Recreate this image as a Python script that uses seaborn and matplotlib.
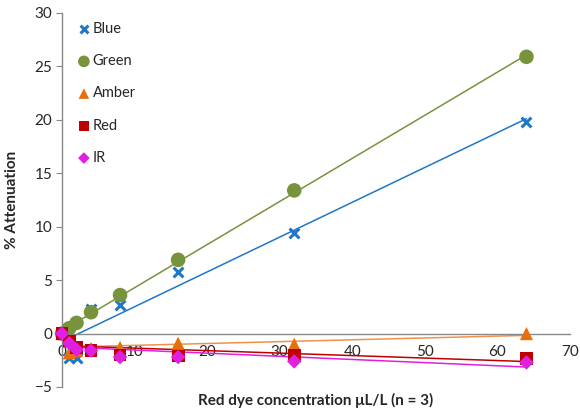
import numpy as np
import pandas as pd
import matplotlib
matplotlib.use("Agg")
import matplotlib.pyplot as plt
import seaborn as sns

sns.set_style("white")
plt.rcParams["font.family"] = ["Lato", "DejaVu Sans"]

conc = [0, 1, 2, 4, 8, 16, 32, 64]
blue = [0.0, -2.3, -2.3, 2.3, 2.7, 5.8, 9.4, 19.8]
green = [0.0, 0.5, 1.0, 2.0, 3.6, 6.9, 13.4, 25.9]
amber = [0.0, -1.8, -1.6, -1.4, -1.3, -0.9, -1.0, 0.0]
red = [0.0, -0.7, -1.3, -1.6, -2.0, -2.1, -2.0, -2.3]
ir = [0.0, -0.9, -1.5, -1.6, -2.2, -2.2, -2.6, -2.7]

series = [
    ("Blue", blue, "#1F77C8", "#1F77C8", "x", 50),
    ("Green", green, "#77933C", "#77933C", "o", 110),
    ("Amber", amber, "#E8700C", "#F0914A", "^", 90),
    ("Red", red, "#C00000", "#C00000", "s", 85),
    ("IR", ir, "#E020E0", "#E020E0", "D", 55),
]

fig = plt.figure(figsize=(5.8, 4.13), dpi=100)
ax = fig.add_axes([62 / 580, 1 - 387 / 413, 508 / 580, 374 / 413])

for name, vals, col, lcol, mk, sz in series:
    df = pd.DataFrame({"x": conc, "y": vals})
    sns.regplot(data=df, x="x", y="y", ax=ax, scatter=False, ci=None,
                line_kws={"color": lcol, "lw": 1.1, "zorder": 2})

for name, vals, col, lcol, mk, sz in series:
    df = pd.DataFrame({"x": conc, "y": vals})
    kw = {"linewidth": 2.2} if mk == "x" else {"edgecolor": "none"}
    sns.scatterplot(data=df, x="x", y="y", ax=ax, marker=mk, s=sz, color=col,
                    label=name, zorder=3, clip_on=False, **kw)

ax.set_xlim(0, 70)
ax.set_ylim(-5, 30)
ax.set_xticks(range(0, 71, 10))
ax.set_yticks(range(-5, 31, 5))
ax.spines["top"].set_visible(False)
ax.spines["right"].set_visible(False)
ax.spines["bottom"].set_position(("data", 0))
for s in ("left", "bottom"):
    ax.spines[s].set_color("#888888")
    ax.spines[s].set_linewidth(1.0)
ax.tick_params(axis="x", direction="in", length=4, pad=8, color="#888888",
               labelsize=11)
ax.tick_params(axis="y", direction="out", length=4, pad=3, color="#888888",
               labelsize=11, left=True)

ax.set_xlabel("Red dye concentration \u03bcL/L (n = 3)", fontsize=11,
              fontweight="bold")
ax.xaxis.set_label_coords(0.5, -0.015)
ax.set_ylabel("% Attenuation", fontsize=11, fontweight="bold")
ax.yaxis.set_label_coords(-0.085, 0.5)

ax.legend(loc="upper left", bbox_to_anchor=(0.0, 1.015), frameon=False,
          fontsize=10.5, labelspacing=1.25, handletextpad=0.1,
          handlelength=1.0, borderaxespad=0.6, markerscale=0.8)

fig.savefig("out.png", dpi=100)
